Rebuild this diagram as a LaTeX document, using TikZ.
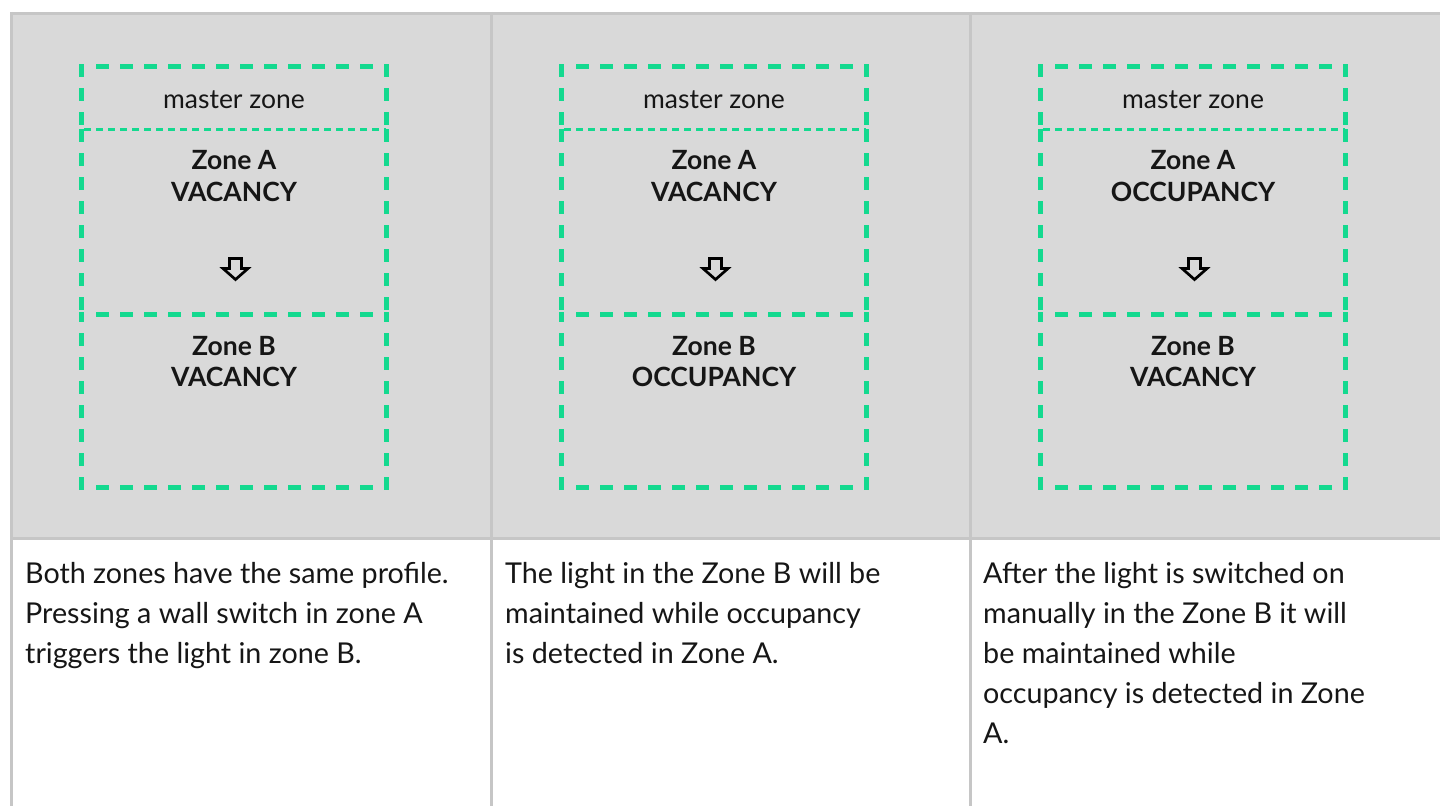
\documentclass[tikz,border=0pt]{standalone}
\usepackage{fontspec}
\setmainfont{Lato}
\definecolor{cellgrey}{HTML}{D9D9D9}
\definecolor{gridline}{HTML}{C6C6C6}
\definecolor{zonegreen}{HTML}{14D98F}
\definecolor{ink}{HTML}{161616}
\begin{document}
\begin{tikzpicture}[x=1bp,y=-1bp,
  gridrule/.style={draw=gridline, line width=2.8bp},
  zonedash/.style={draw=zonegreen, line width=4.5bp, dash pattern=on 13bp off 11bp},
  finedash/.style={draw=zonegreen, line width=3bp, dash pattern=on 7bp off 5bp},
  zlabel/.style={anchor=base, inner sep=0pt, text=ink, font=\fontsize{26.5bp}{31bp}\selectfont},
  zbold/.style={zlabel, font=\fontsize{26.5bp}{31bp}\selectfont\bfseries},
  body/.style={anchor=base west, inner sep=0pt, text=ink, font=\fontsize{28.7bp}{40bp}\selectfont},
  hollowarrow/.style={draw=black, line width=2.7bp, line join=miter}]
\useasboundingbox (0,0) rectangle (1440,806);

% table: grey upper row, white lower row
\fill[cellgrey] (11,12) rectangle (1440,539);
\draw[gridrule] (10,13.2) -- (1440,13.2);
\draw[gridrule] (10,538.5) -- (1440,538.5);
\draw[gridrule] (11.5,12) -- (11.5,806);
\draw[gridrule] (491.5,12) -- (491.5,806);
\draw[gridrule] (970.5,12) -- (970.5,806);

% one zone diagram per column
\foreach \i/\dx/\sa/\sb in {1/0/VACANCY/VACANCY, 2/480/VACANCY/OCCUPANCY, 3/959/OCCUPANCY/VACANCY}{
  \begin{scope}[xshift=\dx bp]
    % outer dashed frame, drawn side by side per cell
    \draw[zonedash] (96,66.5) -- (386,66.5);
    \draw[zonedash] (96,314.5) -- (386,314.5);
    \draw[zonedash] (96,487.5) -- (386,487.5);
    \draw[finedash] (84,129) -- (386,129);
    \draw[zonedash] (81.5,64.3) -- (81.5,131);
    \draw[zonedash] (386.5,64.3) -- (386.5,131);
    \draw[zonedash] (81.5,129) -- (81.5,316);
    \draw[zonedash] (386.5,129) -- (386.5,316);
    \draw[zonedash] (81.5,489.5) -- (81.5,312);
    \draw[zonedash] (386.5,489.5) -- (386.5,312);
    % labels
    \node[zlabel] (m\i)  at (234,108) {master zone};
    \node[zbold]  (za\i) at (234,169.5) {Zone A};
    \node[zbold]  (sa\i) at (234,201) {\sa};
    \node[zbold]  (zb\i) at (234,355) {Zone B};
    \node[zbold]  (sb\i) at (234,386.5) {\sb};
    % hollow down arrow from zone A to zone B
    \draw[hollowarrow] (229.5,258.5) -- (241.5,258.5) -- (241.5,268.5) -- (248,268.5)
      -- (235.5,279.5) -- (223,268.5) -- (229.5,268.5) -- cycle;
  \end{scope}
}

% descriptions
\node[body] (d1a) at (25,583) {Both zones have the same profile.};
\node[body] (d1b) at (25,623) {Pressing a wall switch in zone A};
\node[body] (d1c) at (25,663) {triggers the light in zone B.};

\node[body] (d2a) at (505,583) {The light in the Zone B will be};
\node[body] (d2b) at (505,623) {maintained while occupancy};
\node[body] (d2c) at (505,663) {is detected in Zone A.};

\node[body] (d3a) at (983,583) {After the light is switched on};
\node[body] (d3b) at (983,623) {manually in the Zone B it will};
\node[body] (d3c) at (983,663) {be maintained while};
\node[body] (d3d) at (983,703) {occupancy is detected in Zone};
\node[body] (d3e) at (983,743) {A.};
\end{tikzpicture}
\end{document}
